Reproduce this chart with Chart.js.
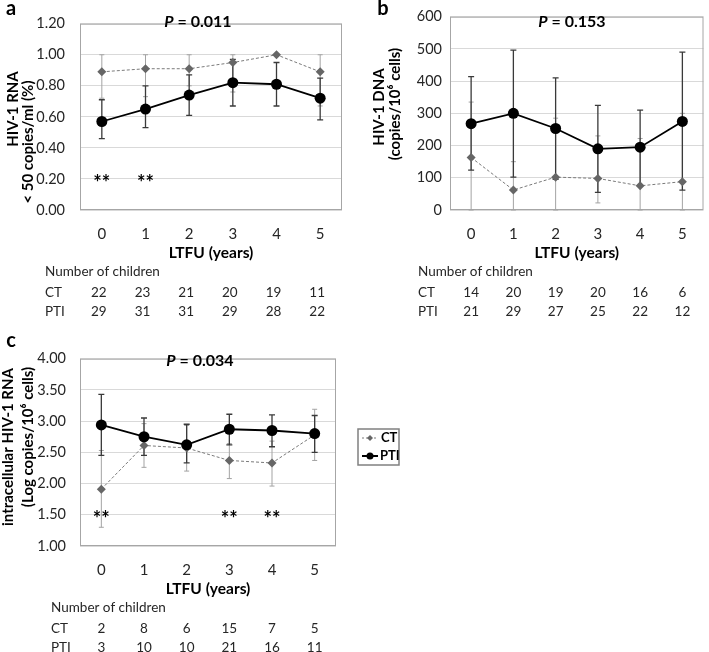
<!DOCTYPE html>
<html>
<head>
<meta charset="utf-8">
<script src="https://cdn.jsdelivr.net/npm/chart.js@4.4.1/dist/chart.umd.min.js"></script>
<style>
  body { margin: 0; background: #fff; }
  #wrap { position: relative; width: 709px; height: 652px; overflow: hidden; }
  canvas { position: absolute; }
</style>
</head>
<body>
<div id="wrap">
  <canvas id="chartA" width="352" height="325" style="left:0;top:0"></canvas>
  <canvas id="chartB" width="354" height="325" style="left:355px;top:0"></canvas>
  <canvas id="chartC" width="405" height="316" style="left:0;top:336px"></canvas>
</div>
<script>
// =========================================
// Data
// =========================================

const years = ["0", "1", "2", "3", "4", "5"];

// a: HIV-1 RNA < 50 copies/ml
const rnaCT = [0.89, 0.91, 0.91, 0.95, 1.00, 0.89];
const rnaCTLow = [0.72, 0.73, 0.80, 0.76, 1.00, 0.67];
const rnaCTHigh = [1.00, 1.00, 1.00, 1.00, 1.00, 1.00];
const rnaPTI = [0.57, 0.65, 0.74, 0.82, 0.81, 0.72];
const rnaPTILow = [0.46, 0.53, 0.61, 0.67, 0.67, 0.58];
const rnaPTIHigh = [0.71, 0.80, 0.87, 0.97, 0.95, 0.85];
const rnaCountCT = [22, 23, 21, 20, 19, 11];
const rnaCountPTI = [29, 31, 31, 29, 28, 22];
const rnaStars = [0, 1];

// b: HIV-1 DNA
const dnaCT = [163, 62, 102, 98, 75, 88];
const dnaCTLow = [0, 0, 0, 22, 0, 0];
const dnaCTHigh = [335, 150, 285, 230, 222, 300];
const dnaPTI = [268, 300, 253, 190, 195, 275];
const dnaPTILow = [124, 102, 95, 55, 75, 62];
const dnaPTIHigh = [414, 496, 410, 325, 310, 490];
const dnaCountCT = [14, 20, 19, 20, 16, 6];
const dnaCountPTI = [21, 29, 27, 25, 22, 12];

// c: intracellular HIV-1 RNA
const icCT = [1.91, 2.61, 2.57, 2.37, 2.33, 2.78];
const icCTLow = [1.30, 2.26, 2.20, 2.08, 1.96, 2.37];
const icCTHigh = [2.53, 2.96, 2.93, 2.64, 2.68, 3.19];
const icPTI = [2.94, 2.75, 2.62, 2.87, 2.85, 2.80];
const icPTILow = [2.45, 2.45, 2.33, 2.62, 2.59, 2.50];
const icPTIHigh = [3.43, 3.05, 2.95, 3.11, 3.10, 3.09];
const icCountCT = [2, 8, 6, 15, 7, 5];
const icCountPTI = [3, 10, 10, 21, 16, 11];
const icStars = [0, 3, 4];

const FONT = "Lato, 'Open Sans', sans-serif";
const TEXT = "#262626";

// =========================================
// Error bars, frame, labels, tables, legend
// =========================================

const panelExtras = {
    id: "panelExtras",

    beforeDatasetsDraw(chart) {
        const ctx = chart.ctx;
        const area = chart.chartArea;
        const xs = chart.scales.x;
        const ys = chart.scales.y;

        ctx.save();
        ctx.strokeStyle = "#a6a6a6";
        ctx.lineWidth = 1;
        ctx.strokeRect(area.left + 0.5, area.top + 0.5,
            area.right - area.left - 1, area.bottom - area.top - 1);

        chart.data.datasets.forEach(ds => {
            ctx.strokeStyle = ds.errColor;
            ctx.lineWidth = ds.errWidth;
            const cap = ds.errCap;
            ds.data.forEach((v, i) => {
                const px = xs.getPixelForValue(i);
                const top = ys.getPixelForValue(ds.errHigh[i]);
                const bot = ys.getPixelForValue(ds.errLow[i]);
                ctx.beginPath();
                ctx.moveTo(px, top);
                ctx.lineTo(px, bot);
                ctx.moveTo(px - cap, top);
                ctx.lineTo(px + cap, top);
                ctx.moveTo(px - cap, bot);
                ctx.lineTo(px + cap, bot);
                ctx.stroke();
            });
        });
        ctx.restore();
    },

    afterDraw(chart, args, opts) {
        const ctx = chart.ctx;
        const area = chart.chartArea;
        const xs = chart.scales.x;
        const ys = chart.scales.y;

        ctx.save();
        ctx.fillStyle = "#000";

        // panel letter
        ctx.font = "bold 20px " + FONT;
        ctx.textAlign = "center";
        ctx.textBaseline = "middle";
        ctx.fillText(opts.letter, opts.letterX, opts.letterY);

        // y axis title, two rotated lines
        ctx.font = "bold 15px " + FONT;
        opts.yTitles.forEach(t => {
            ctx.save();
            ctx.translate(t.x, t.y);
            ctx.rotate(-Math.PI / 2);
            ctx.fillText(t.text, 0, 0);
            ctx.restore();
        });

        // P value
        ctx.font = "italic bold 16px " + FONT;
        const wP = ctx.measureText("P").width;
        ctx.font = "bold 16px " + FONT;
        const rest = " = " + opts.pValue;
        const wR = ctx.measureText(rest).width;
        const startX = opts.pX - (wP + wR) / 2;
        ctx.textAlign = "left";
        ctx.font = "italic bold 16px " + FONT;
        ctx.fillText("P", startX, opts.pY);
        ctx.font = "bold 16px " + FONT;
        ctx.fillText(rest, startX + wP, opts.pY);

        // significance stars
        ctx.font = "bold 20px " + FONT;
        ctx.textAlign = "center";
        ctx.textBaseline = "alphabetic";
        opts.stars.forEach(i => {
            ctx.fillText("**", xs.getPixelForValue(i), ys.getPixelForValue(opts.starValue) + 11);
        });

        // number of children table
        ctx.fillStyle = TEXT;
        ctx.font = "13.5px " + FONT;
        ctx.textBaseline = "middle";
        ctx.textAlign = "left";
        const b = area.bottom;
        ctx.fillText("Number of children", opts.tableX, b + 62);
        ctx.fillText("CT", opts.tableX, b + 83);
        ctx.fillText("PTI", opts.tableX, b + 102);
        ctx.textAlign = "center";
        opts.countCT.forEach((n, i) => {
            ctx.fillText(String(n), xs.getPixelForValue(i) - opts.tableShift, b + 83);
        });
        opts.countPTI.forEach((n, i) => {
            ctx.fillText(String(n), xs.getPixelForValue(i) - opts.tableShift, b + 102);
        });

        // legend box
        if (opts.legend) {
            const lx = 358, ly = 93;
            ctx.strokeStyle = "#808080";
            ctx.lineWidth = 1.5;
            ctx.strokeRect(lx, ly, 41, 36);

            const ct = chart.data.datasets[0];
            const pti = chart.data.datasets[1];

            ctx.strokeStyle = ct.borderColor;
            ctx.lineWidth = 1;
            ctx.setLineDash([2, 2]);
            ctx.beginPath();
            ctx.moveTo(lx + 4, ly + 9);
            ctx.lineTo(lx + 20, ly + 9);
            ctx.stroke();
            ctx.setLineDash([]);
            ctx.fillStyle = ct.pointBackgroundColor;
            ctx.beginPath();
            ctx.moveTo(lx + 12, ly + 6);
            ctx.lineTo(lx + 15, ly + 9);
            ctx.lineTo(lx + 12, ly + 12);
            ctx.lineTo(lx + 9, ly + 9);
            ctx.closePath();
            ctx.fill();

            ctx.strokeStyle = pti.borderColor;
            ctx.lineWidth = 2;
            ctx.beginPath();
            ctx.moveTo(lx + 4, ly + 27);
            ctx.lineTo(lx + 20, ly + 27);
            ctx.stroke();
            ctx.fillStyle = pti.pointBackgroundColor;
            ctx.beginPath();
            ctx.arc(lx + 12, ly + 27, 3.5, 0, Math.PI * 2);
            ctx.fill();

            ctx.fillStyle = "#000";
            ctx.font = "bold 13px " + FONT;
            ctx.textAlign = "left";
            ctx.textBaseline = "middle";
            ctx.fillText(ct.label, lx + 23, ly + 9);
            ctx.fillText(pti.label, lx + 22, ly + 27);
        }
        ctx.restore();
    }
};

// =========================================
// Panel builder
// =========================================

function buildPanel(canvasId, p) {

    return new Chart(document.getElementById(canvasId), {

        type: "line",

        data: {

            labels: years,

            datasets: [
                {
                    label: "CT",
                    data: p.ct,
                    errLow: p.ctLow,
                    errHigh: p.ctHigh,
                    errColor: "#a3a3a3",
                    errWidth: 1,
                    errCap: 2.5,
                    borderColor: "#7a7a7a",
                    borderWidth: 1,
                    borderDash: [3, 2],
                    pointStyle: "rectRot",
                    pointRadius: 4.5,
                    pointBackgroundColor: "#666666",
                    pointBorderColor: "#666666",
                    pointBorderWidth: 0,
                    tension: 0,
                    order: 1
                },
                {
                    label: "PTI",
                    data: p.pti,
                    errLow: p.ptiLow,
                    errHigh: p.ptiHigh,
                    errColor: "#3a3a3a",
                    errWidth: 1.3,
                    errCap: 3,
                    borderColor: "#000000",
                    borderWidth: 1.8,
                    pointStyle: "circle",
                    pointRadius: 5.5,
                    pointBackgroundColor: "#000000",
                    pointBorderColor: "#000000",
                    pointBorderWidth: 0,
                    tension: 0,
                    order: 0
                }
            ]
        },

        options: {

            responsive: false,
            animation: false,

            layout: {
                padding: p.padding
            },

            plugins: {
                legend: { display: false },
                tooltip: { enabled: false },
                panelExtras: p.extras
            },

            scales: {

                x: {
                    offset: true,
                    grid: { display: false },
                    border: { display: false },
                    ticks: {
                        color: TEXT,
                        padding: 7,
                        font: { family: FONT, size: 15 }
                    },
                    title: {
                        display: true,
                        text: "LTFU (years)",
                        color: "#000",
                        padding: { top: 0, bottom: 0 },
                        font: { family: FONT, size: 15.5, weight: "bold" }
                    },
                    afterFit: s => { s.height = 52; }
                },

                y: {
                    min: p.yMin,
                    max: p.yMax,
                    grid: { color: "#d9d9d9", drawTicks: false },
                    border: { display: false },
                    ticks: {
                        stepSize: p.yStep,
                        color: TEXT,
                        padding: p.tickPad,
                        font: { family: FONT, size: 14.5 },
                        callback: v => v.toFixed(p.decimals)
                    },
                    afterFit: s => { s.width = p.yWidth; }
                }
            }
        },

        plugins: [panelExtras]
    });
}

// =========================================
// Panel a: HIV-1 RNA < 50 copies/ml
// =========================================

buildPanel("chartA", {
    ct: rnaCT, ctLow: rnaCTLow, ctHigh: rnaCTHigh,
    pti: rnaPTI, ptiLow: rnaPTILow, ptiHigh: rnaPTIHigh,
    yMin: 0, yMax: 1.2, yStep: 0.2, decimals: 2,
    yWidth: 80, tickPad: 15,
    padding: { left: 0, right: 10, top: 12, bottom: 63 },
    extras: {
        letter: "a", letterX: 11, letterY: 9,
        yTitles: [
            { text: "HIV-1 RNA", x: 13, y: 109 },
            { text: "< 50 copies/ml (%)", x: 28, y: 142 }
        ],
        pValue: "0.011", pX: 198, pY: 22,
        stars: rnaStars, starValue: 0.2,
        tableX: 45, tableShift: 3,
        countCT: rnaCountCT, countPTI: rnaCountPTI,
        legend: false
    }
});

// =========================================
// Panel b: HIV-1 DNA
// =========================================

buildPanel("chartB", {
    ct: dnaCT, ctLow: dnaCTLow, ctHigh: dnaCTHigh,
    pti: dnaPTI, ptiLow: dnaPTILow, ptiHigh: dnaPTIHigh,
    yMin: 0, yMax: 600, yStep: 100, decimals: 0,
    yWidth: 95, tickPad: 8,
    padding: { left: 0, right: 4, top: 9, bottom: 63 },
    extras: {
        letter: "b", letterX: 28, letterY: 9,
        yTitles: [
            { text: "HIV-1 DNA", x: 24, y: 107 },
            { text: "(copies/10\u2076 cells)", x: 40, y: 104 }
        ],
        pValue: "0.153", pX: 217, pY: 22,
        stars: [], starValue: 0,
        tableX: 63, tableShift: 0,
        countCT: dnaCountCT, countPTI: dnaCountPTI,
        legend: false
    }
});

// =========================================
// Panel c: intracellular HIV-1 RNA
// =========================================

buildPanel("chartC", {
    ct: icCT, ctLow: icCTLow, ctHigh: icCTHigh,
    pti: icPTI, ptiLow: icPTILow, ptiHigh: icPTIHigh,
    yMin: 1, yMax: 4, yStep: 0.5, decimals: 2,
    yWidth: 80, tickPad: 14,
    padding: { left: 0, right: 69, top: 11, bottom: 54 },
    extras: {
        letter: "c", letterX: 11, letterY: 5,
        yTitles: [
            { text: "intracellular HIV-1 RNA", x: 8, y: 111 },
            { text: "(Log copies/10\u2076 cells)", x: 28, y: 101 }
        ],
        pValue: "0.034", pX: 200, pY: 25,
        stars: icStars, starValue: 1.5,
        tableX: 51, tableShift: 0,
        countCT: icCountCT, countPTI: icCountPTI,
        legend: true
    }
});
</script>
</body>
</html>
